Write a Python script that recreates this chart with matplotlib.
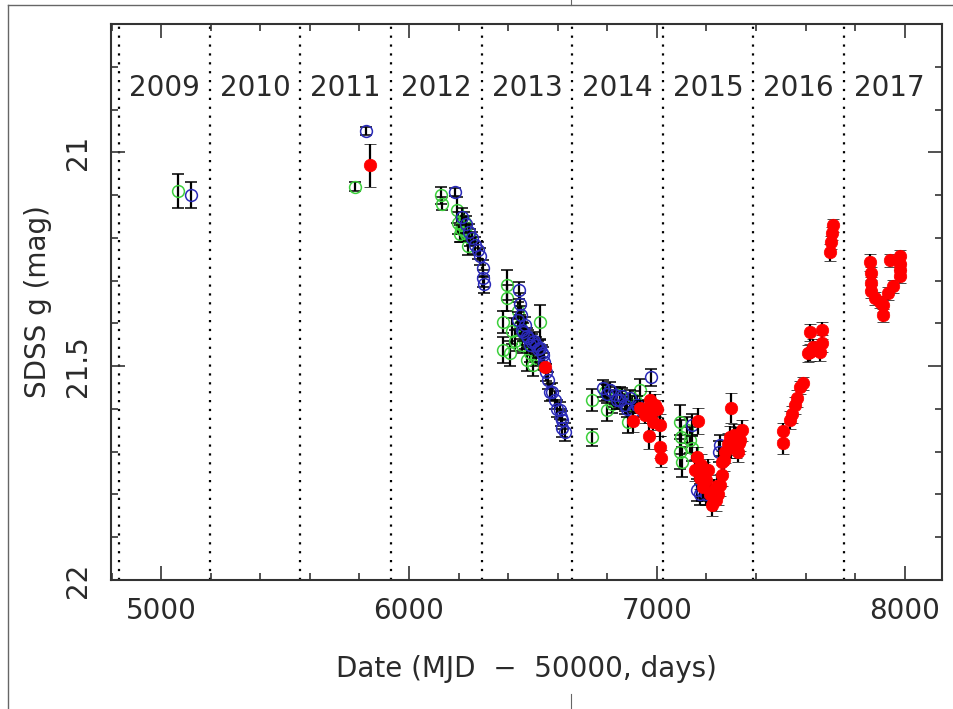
# light curve of a quasar in SDSS g band, 2009-2017
import matplotlib
matplotlib.use('Agg')
import matplotlib.pyplot as plt
from matplotlib.lines import Line2D
from matplotlib.ticker import MultipleLocator

plt.rcParams['font.family'] = ['DejaVu Sans']

# green open circles: MJD-50000, mag, error
green_t = [5069, 5782, 6129, 6133, 6193, 6197, 6210, 6222, 6230, 6238, 6246, 6215, 6205, 6225,
           6395, 6397, 6379, 6415, 6379, 6407, 6528, 6476, 6500, 6447, 6468, 6427,
           6440, 6455, 6488, 6512,
           6738, 6738, 6798, 6818, 6790, 6883, 6931, 6851, 6911, 6825, 6870, 6900, 6945,
           7093, 7097, 7093, 7101, 7133, 7141, 7121]
green_m = [21.09, 21.08, 21.10, 21.12, 21.135, 21.165, 21.18, 21.16, 21.19, 21.22, 21.20, 21.17, 21.19, 21.185,
           21.31, 21.34, 21.397, 21.418, 21.462, 21.47, 21.397, 21.486, 21.498, 21.404, 21.44, 21.44,
           21.37, 21.45, 21.47, 21.48,
           21.579, 21.666, 21.603, 21.589, 21.561, 21.631, 21.556, 21.568, 21.579, 21.575, 21.585, 21.59, 21.60,
           21.631, 21.666, 21.70, 21.724, 21.673, 21.692, 21.65]
green_e = [0.04, 0.01, 0.02, 0.015, 0.03, 0.025, 0.03, 0.02, 0.02, 0.02, 0.02, 0.02, 0.02, 0.02,
           0.035, 0.03, 0.025, 0.03, 0.03, 0.03, 0.04, 0.025, 0.025, 0.02, 0.02, 0.025,
           0.02, 0.02, 0.02, 0.02,
           0.025, 0.02, 0.025, 0.02, 0.02, 0.025, 0.025, 0.02, 0.02, 0.02, 0.02, 0.02, 0.02,
           0.04, 0.04, 0.04, 0.035, 0.03, 0.03, 0.03]

# blue open circles
blue_t = [5121, 5827, 6185, 6214, 6230, 6242, 6254, 6266, 6278, 6286, 6298, 6298, 6302,
          6443, 6447, 6439, 6455, 6480, 6496, 6512, 6528, 6540, 6560, 6568, 6589, 6609,
          6617, 6617, 6629, 6468, 6552,
          6450, 6460, 6475, 6490, 6505, 6520, 6535, 6545, 6575, 6598, 6612,
          6810, 6830, 6851, 6871, 6976, 6782, 6891, 6800, 6840, 6860, 6880, 6905, 6920,
          7141, 7161, 7173, 7254, 7193, 7180, 7190, 7200, 7250]
blue_m = [21.10, 20.95, 21.093, 21.15, 21.168, 21.187, 21.201, 21.217, 21.229, 21.243, 21.271, 21.294, 21.308,
          21.322, 21.355, 21.393, 21.416, 21.435, 21.444, 21.451, 21.458, 21.474, 21.533, 21.561, 21.579, 21.603,
          21.626, 21.645, 21.654, 21.404, 21.514,
          21.38, 21.42, 21.43, 21.45, 21.44, 21.46, 21.47, 21.49, 21.56, 21.60, 21.62,
          21.556, 21.568, 21.579, 21.591, 21.526, 21.552, 21.575, 21.565, 21.58, 21.57, 21.60, 21.605, 21.59,
          21.638, 21.79, 21.80, 21.685, 21.766, 21.79, 21.78, 21.80, 21.70]
blue_e = [0.03, 0.01, 0.01, 0.02, 0.02, 0.02, 0.015, 0.02, 0.02, 0.02, 0.02, 0.02, 0.02,
          0.02, 0.025, 0.02, 0.02, 0.02, 0.02, 0.02, 0.02, 0.02, 0.02, 0.02, 0.02, 0.02,
          0.02, 0.02, 0.02, 0.02, 0.02,
          0.02, 0.02, 0.02, 0.02, 0.02, 0.02, 0.02, 0.02, 0.02, 0.02, 0.02,
          0.02, 0.02, 0.02, 0.02, 0.02, 0.02, 0.02, 0.02, 0.02, 0.02, 0.02, 0.02, 0.02,
          0.025, 0.025, 0.025, 0.025, 0.025, 0.025, 0.025, 0.025, 0.025]

# red filled circles
red_t = [5843, 6548,
         6903, 6968, 6980, 6992, 7012, 7012, 7016, 6951, 6972, 6931, 6960, 6985, 7000,
         7165, 7161, 7153, 7173, 7185, 7197, 7214, 7222, 7238, 7246, 7254, 7262, 7262,
         7274, 7286, 7294, 7306, 7318, 7298, 7343, 7335, 7327, 7205,
         7178, 7190, 7230, 7242, 7270, 7300, 7320, 7310, 7330,
         7508, 7508, 7536, 7544, 7556, 7564, 7576, 7589, 7617, 7629, 7609, 7617,
         7657, 7665, 7665, 7697, 7701, 7705, 7709,
         7859, 7863, 7863, 7863, 7879, 7899, 7911, 7911, 7931, 7951, 7939,
         7980, 7980, 7980, 7980]
red_m = [21.03, 21.502,
         21.629, 21.664, 21.608, 21.591, 21.638, 21.689, 21.715, 21.614, 21.579, 21.598, 21.60, 21.63, 21.60,
         21.628, 21.713, 21.743, 21.762, 21.783, 21.766, 21.80, 21.825, 21.813, 21.80, 21.778, 21.755, 21.724,
         21.701, 21.682, 21.666, 21.678, 21.668, 21.598, 21.65, 21.673, 21.70, 21.743,
         21.73, 21.75, 21.79, 21.78, 21.72, 21.69, 21.69, 21.66, 21.68,
         21.68, 21.652, 21.626, 21.612, 21.591, 21.575, 21.549, 21.54, 21.467, 21.456, 21.47, 21.421,
         21.467, 21.446, 21.416, 21.234, 21.21, 21.189, 21.171,
         21.257, 21.283, 21.306, 21.325, 21.341, 21.35, 21.358, 21.381, 21.33, 21.313, 21.252,
         21.243, 21.26, 21.276, 21.29]
red_e = [0.05, 0.01,
         0.025, 0.03, 0.025, 0.025, 0.025, 0.025, 0.02, 0.02, 0.02, 0.02, 0.02, 0.02, 0.02,
         0.03, 0.025, 0.025, 0.025, 0.025, 0.025, 0.025, 0.025, 0.025, 0.025, 0.025, 0.025, 0.025,
         0.025, 0.025, 0.025, 0.025, 0.025, 0.035, 0.025, 0.025, 0.025, 0.025,
         0.025, 0.025, 0.025, 0.025, 0.025, 0.025, 0.025, 0.025, 0.025,
         0.025, 0.02, 0.02, 0.02, 0.02, 0.02, 0.015, 0.015, 0.02, 0.02, 0.02, 0.02,
         0.02, 0.02, 0.02, 0.02, 0.015, 0.015, 0.015,
         0.02, 0.015, 0.015, 0.015, 0.015, 0.015, 0.015, 0.015, 0.015, 0.015, 0.015,
         0.015, 0.015, 0.015, 0.015]

# year boundaries (MJD-50000) and labels
year_edges = [4832, 5197, 5562, 5927, 6293, 6658, 7023, 7388, 7754, 8119]
year_labels = ['2009', '2010', '2011', '2012', '2013', '2014', '2015', '2016', '2017']

fig = plt.figure(figsize=(9.54, 7.09), dpi=100)
ax = fig.add_axes([0.1164, 0.182, 0.871, 0.784])

for xe in year_edges[:-1]:
    ax.axvline(xe, color='black', lw=1.6, ls=(0, (1, 3)), zorder=1)

for i, lab in enumerate(year_labels):
    xm = 0.5 * (year_edges[i] + year_edges[i + 1])
    ax.text(xm, 20.85, lab, ha='center', va='center', fontsize=20, color='#2a2a2a')

ax.errorbar(green_t, green_m, yerr=green_e, fmt='o', mfc='none', mec='#3ccf3c', mew=1.1,
            ms=8.5, ecolor='black', elinewidth=1.6, capsize=4, capthick=1.8, zorder=3)
ax.errorbar(blue_t, blue_m, yerr=blue_e, fmt='o', mfc='none', mec='#2a2ab8', mew=1.1,
            ms=8.5, ecolor='black', elinewidth=1.6, capsize=4, capthick=1.8, zorder=4)
ax.errorbar(red_t, red_m, yerr=red_e, fmt='o', mfc='red', mec='red', mew=0.5,
            ms=9, ecolor='black', elinewidth=1.6, capsize=4, capthick=1.8, zorder=5)

ax.set_xlim(4798, 8150)
ax.set_ylim(22, 20.7)
ax.xaxis.set_major_locator(MultipleLocator(1000))
ax.xaxis.set_minor_locator(MultipleLocator(200))
ax.yaxis.set_minor_locator(MultipleLocator(0.1))
ax.set_yticks([21, 21.5, 22])
ax.set_yticklabels(['21', '21.5', '22'], rotation=90, va='center')
ax.tick_params(which='both', direction='in', top=True, right=True, width=1.2, color='#333333',
               labelsize=20, labelcolor='#2a2a2a')
ax.tick_params(axis='x', which='major', length=10, pad=12)
ax.tick_params(axis='y', which='major', length=10, pad=14)
ax.tick_params(which='minor', length=5)
for s in ax.spines.values():
    s.set_linewidth(1.5)
    s.set_color('#333333')

ax.set_xlabel('Date (MJD  \u2212  50000, days)', fontsize=20, color='#2a2a2a')
ax.set_ylabel('SDSS g (mag)', fontsize=20, color='#2a2a2a')
ax.xaxis.set_label_coords(0.50, -0.135)
ax.yaxis.set_label_coords(-0.071, 0.5)

# page border seen in the screenshot
c = '#666666'
fig.add_artist(Line2D([8 / 954, 1], [1 - 5 / 709, 1 - 5 / 709], color=c, lw=1, transform=fig.transFigure))
fig.add_artist(Line2D([8 / 954, 8 / 954], [0, 1 - 5 / 709], color=c, lw=1, transform=fig.transFigure))
fig.add_artist(Line2D([571 / 954, 571 / 954], [1 - 5 / 709, 1], color=c, lw=0.8, transform=fig.transFigure))
fig.add_artist(Line2D([571 / 954, 571 / 954], [0, 15 / 709], color=c, lw=0.8, transform=fig.transFigure))

fig.savefig('out.png', dpi=100)
